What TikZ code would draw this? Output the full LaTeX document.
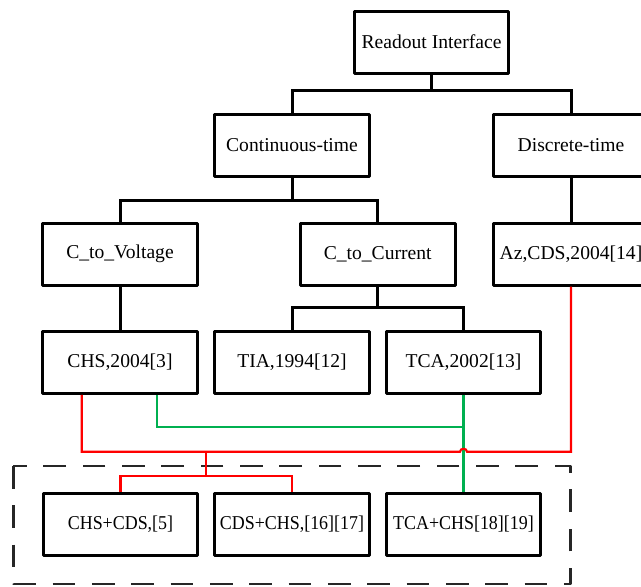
\documentclass[tikz,border=0pt]{standalone}
\usepackage{fontspec}
\setmainfont{Liberation Serif}
\newfontfamily\boxfont{Liberation Serif}
\newfontfamily\narrowboxfont[FakeStretch=0.915]{Liberation Serif}
\usetikzlibrary{positioning, calc}
\definecolor{wirered}{RGB}{255,0,0}
\definecolor{wiregreen}{RGB}{0,176,80}
\tikzset{
  box/.style={draw, line width=2.25pt, line join=round, minimum width=116pt, minimum height=46.5pt,
              inner sep=0pt, font=\boxfont\fontsize{14.7}{17}\selectfont},
  hybbox/.style={box, font=\narrowboxfont\fontsize{14.7}{17}\selectfont},
  tree/.style={line width=2.25pt},
  redwire/.style={wirered, line width=1.6pt},
  greenwire/.style={wiregreen, line width=1.6pt},
  groupbox/.style={black!85, line width=2.2pt, dash pattern=on 17pt off 12.5pt, line join=round}
}

\begin{document}
\begin{tikzpicture}[x=0.75pt,y=-0.75pt]
\useasboundingbox (0,0) rectangle (641,586);
\clip (0,0) rectangle (641,586);

\draw 	(431.5,42) node[box](ri){Readout Interface};
\draw 	(292,145.5) node[box](ct){Continuous-time}  (571,145.5) node[box](dt){Discrete-time};
\draw 	(120,254.2) node[box](cv){C\_to\_Voltage}  (377.7,254.2) node[box](cc){C\_to\_Current}
		(571,254.2) node[box](az){Az,CDS,2004[14]};
\draw 	(120,362.3) node[box](chs){CHS,2004[3]}  (292,362.3) node[box](tia){TIA,1994[12]}
		(463.5,362.3) node[box](tca){TCA,2002[13]};
\draw 	(120.5,524.2) node[hybbox](hybA){CHS+CDS,[5]}  (292,524.2) node[hybbox](hybB){CDS+CHS,[16][17]}
		(463.5,524.2) node[hybbox](hybC){TCA+CHS[18][19]};

% tree
\draw[tree] (ri.south) -- ++(0,16) -| (ct.north)  (ri.south) -- ++(0,16) -| (dt.north);
\draw[tree] (ct.south) -- ++(0,22.7) -| (cv.north)  (ct.south) -- ++(0,22.7) -| (cc.north);
\draw[tree] (cc.south) -- ++(0,21) -| (tia.north)  (cc.south) -- ++(0,21) -| (tca.north);
\draw[tree] (cv.south) -- (chs.north);
\draw[tree] (dt.south) -- (az.north);

% group of combined readouts
\draw[groupbox] (13.3,466) rectangle (570.7,584);

% links
\draw[greenwire] ($(chs.south)+(36.7,0)$) |- ($(tca.south)+(0,32.2)$);
\draw[greenwire] (tca.south) -- (hybC.north);
\draw[redwire] ($(chs.south)+(-38.3,0)$) -- ($(chs.south)+(-38.3,57)$) -- ($(tca.south)+(-3.5,57)$)
      .. controls ($(tca.south)+(-3.5,53)$) and ($(tca.south)+(3.5,53)$) .. ($(tca.south)+(3.5,57)$) -| (az.south);
\draw[redwire] ($(hybA.north)!0.5!(hybB.north)+(0,-40)$) -- ($(hybA.north)!0.5!(hybB.north)+(0,-16)$);
\draw[redwire] (hybA.north) -- ++(0,-16) -| (hybB.north);
\end{tikzpicture}
\end{document}
